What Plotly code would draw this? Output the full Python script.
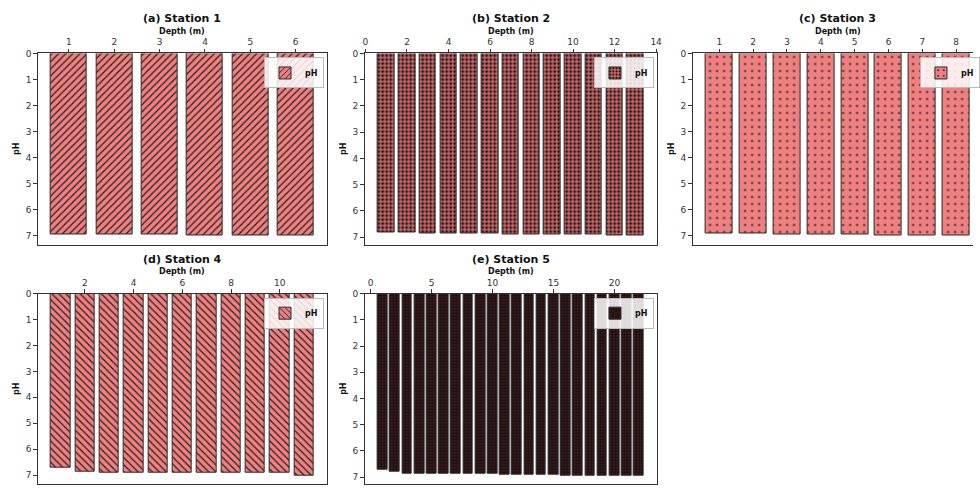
import plotly.graph_objects as go

# ---- data: pH profiles by depth for each station ----
st1_depth = [1, 2, 3, 4, 5, 6]
st1_ph = [6.93, 6.94, 6.96, 6.97, 6.97, 6.99]

st2_depth = [1, 2, 3, 4, 5, 6, 7, 8, 9, 10, 11, 12, 13]
st2_ph = [6.83, 6.83, 6.86, 6.86, 6.88, 6.88, 6.90, 6.90, 6.92, 6.92, 6.92, 6.95, 6.95]

st3_depth = [1, 2, 3, 4, 5, 6, 7, 8]
st3_ph = [6.92, 6.92, 6.94, 6.95, 6.95, 6.97, 6.97, 6.99]

st4_depth = [1, 2, 3, 4, 5, 6, 7, 8, 9, 10, 11]
st4_ph = [6.70, 6.88, 6.91, 6.91, 6.92, 6.92, 6.93, 6.93, 6.93, 6.93, 7.01]

st5_depth = [1, 2, 3, 4, 5, 6, 7, 8, 9, 10, 11, 12, 13, 14, 15, 16, 17, 18, 19, 20, 21, 22]
st5_ph = [6.70, 6.80, 6.86, 6.86, 6.86, 6.87, 6.87, 6.88, 6.88, 6.88, 6.90,
          6.90, 6.90, 6.90, 6.90, 6.93, 6.93, 6.93, 6.93, 6.93, 6.93, 6.93]

titles = ["(a) Station 1", "(b) Station 2", "(c) Station 3", "(d) Station 4", "(e) Station 5"]
x_ticks = [[1, 2, 3, 4, 5, 6], [0, 2, 4, 6, 8, 10, 12, 14], [1, 2, 3, 4, 5, 6, 7, 8],
           [2, 4, 6, 8, 10], [0, 5, 10, 15, 20]]
y_ticks = [0, 1, 2, 3, 4, 5, 6, 7]

W, H = 980, 488
FONT = "DejaVu Sans"
BAR_COLOR = "#F08080"
EDGE = "#2a2a2a"
AX = "#333333"

# panel boxes in pixels: (left, right, top, bottom)
cols = [(36, 328), (366, 661), (697, 990)]
rows = [(49, 242.3), (291.7, 484.3)]
panels = [(cols[0], rows[0]), (cols[1], rows[0]), (cols[2], rows[0]),
          (cols[0], rows[1]), (cols[1], rows[1])]

patterns = [
    dict(shape="/", size=5, solidity=0.22, fgcolor="#1a1a1a", bgcolor=BAR_COLOR),
    dict(shape=".", size=4, solidity=0.45, fgcolor="#1a1a1a", bgcolor="#d86868"),
    dict(shape=".", size=7, solidity=0.08, fgcolor="#1a1a1a", bgcolor=BAR_COLOR),
    dict(shape="\\", size=5, solidity=0.22, fgcolor="#1a1a1a", bgcolor=BAR_COLOR),
    dict(shape=".", size=3, solidity=0.82, fgcolor="#1c1010", bgcolor="#b04848"),
]

stations = [(st1_depth, st1_ph), (st2_depth, st2_ph), (st3_depth, st3_ph),
            (st4_depth, st4_ph), (st5_depth, st5_ph)]


def px(x):
    return x / W


def py(y):
    return 1 - y / H


fig = go.Figure()
layout = dict(
    width=W, height=H, margin=dict(l=0, r=0, t=0, b=0),
    paper_bgcolor="white", plot_bgcolor="white",
    font=dict(family=FONT, size=9, color="#222"),
    showlegend=True, bargap=0,
)
annotations = []

for i, ((depth, ph), ((L, R), (T, B))) in enumerate(zip(stations, panels)):
    n = i + 1
    xa = "x" if n == 1 else f"x{n}"
    ya = "y" if n == 1 else f"y{n}"
    lg = "legend" if n == 1 else f"legend{n}"

    fig.add_trace(go.Bar(
        x=depth, y=ph, width=0.8, name="pH", xaxis=xa, yaxis=ya, legend=lg,
        marker=dict(color=BAR_COLOR, line=dict(color=EDGE, width=1),
                    pattern=dict(fillmode="replace", **patterns[i])),
    ))

    # matplotlib-like limits: 5% padding on x, y from 0 to 1.05 * max
    lo, hi = min(depth) - 0.4, max(depth) + 0.4
    pad = 0.05 * (hi - lo)
    xr = [lo - pad, hi + pad]
    right_px = R
    if R > W:  # panel runs past the canvas edge
        xr[1] = xr[0] + (xr[1] - xr[0]) * (W - L) / (R - L)
        right_px = W
    ymax = 1.05 * max(ph)

    layout["xaxis" if n == 1 else f"xaxis{n}"] = dict(
        domain=[px(L), px(right_px)], anchor=ya, side="top", range=xr,
        tickvals=x_ticks[i], showgrid=False, zeroline=False,
        showline=True, linecolor=AX, linewidth=1, mirror=True,
        ticks="outside", ticklen=3.5, tickcolor=AX,
        tickfont=dict(size=9, color="#333"),
    )
    layout["yaxis" if n == 1 else f"yaxis{n}"] = dict(
        domain=[py(B), py(T)], anchor=xa, range=[ymax, 0],
        tickvals=y_ticks, showgrid=False, zeroline=False,
        showline=True, linecolor=AX, linewidth=1, mirror=(R <= W),
        ticks="outside", ticklen=3.5, tickcolor=AX,
        tickfont=dict(size=9, color="#333"),
    )
    layout[lg] = dict(
        x=px(R - 3), y=py(T + 4), xanchor="right", yanchor="top",
        bgcolor="rgba(255,255,255,0.85)", bordercolor="#bbbbbb", borderwidth=1,
        font=dict(family=FONT, size=8, color="#111", weight="bold"),
        itemwidth=30, tracegroupgap=0,
    )

    cx = (L + R) / 2
    annotations.append(dict(text=f"<b>{titles[i]}</b>", x=px(cx), y=py(T - 35),
                            xref="paper", yref="paper", showarrow=False,
                            font=dict(size=11, color="#111"), xanchor="center", yanchor="middle"))
    annotations.append(dict(text="<b>Depth (m)</b>", x=px(cx), y=py(T - 22.5),
                            xref="paper", yref="paper", showarrow=False,
                            font=dict(size=8, color="#111"), xanchor="center", yanchor="middle"))
    annotations.append(dict(text="<b>pH</b>", x=px(L - 22), y=py((T + B) / 2),
                            xref="paper", yref="paper", showarrow=False, textangle=-90,
                            font=dict(size=8, color="#111"), xanchor="center", yanchor="middle"))

layout["annotations"] = annotations
fig.update_layout(**layout)
fig.write_html("out.html")
